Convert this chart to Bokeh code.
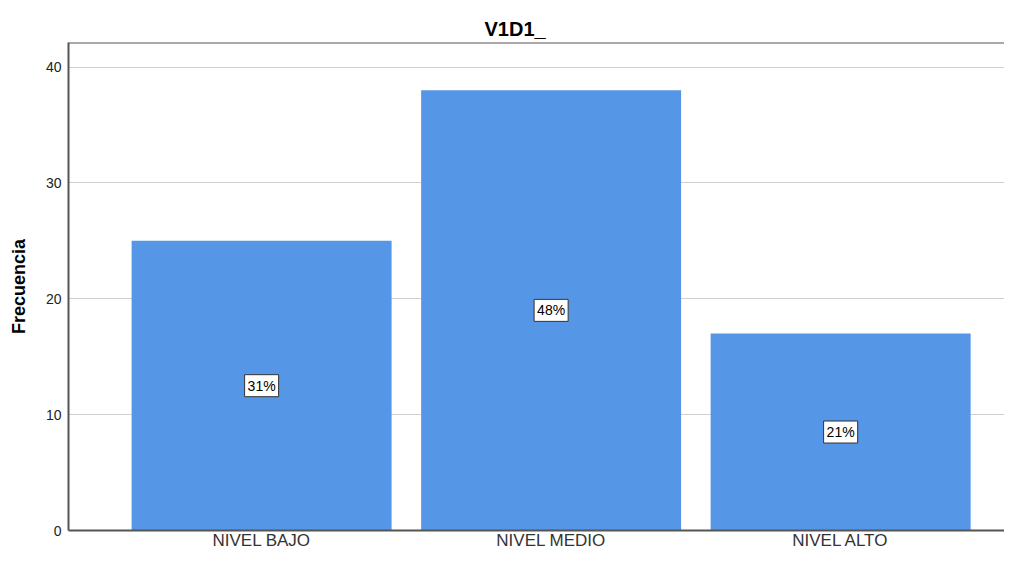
from bokeh.plotting import figure
from bokeh.models import ColumnDataSource, FixedTicker, Span
from bokeh.core.properties import value
from bokeh.embed import file_html
from bokeh.resources import INLINE

categories = ["NIVEL BAJO", "NIVEL MEDIO", "NIVEL ALTO"]
frequencies = [25, 38, 17]
percent_labels = ["31%", "48%", "21%"]
y_ticks = [0, 10, 20, 30, 40]

xs = list(range(len(categories)))
src = ColumnDataSource(dict(
    x=xs,
    top=frequencies,
    mid=[f / 2 for f in frequencies],
    lab=percent_labels,
))

FONT = "Liberation Sans"
YMAX = 42.12

p = figure(width=1004, height=552, output_backend="svg", toolbar_location=None,
           x_range=(-0.667, 2.566), y_range=(0, YMAX),
           min_border_left=68, min_border_top=42, min_border_bottom=20, min_border_right=0,
           title="V1D1_")
p.outline_line_color = None
p.background_fill_color = "white"
p.border_fill_color = "white"

p.title.align = "left"
p.title.offset = 416
p.title.text_font = FONT
p.title.text_font_size = "20px"
p.title.text_font_style = "bold"
p.title.text_color = "#000000"
p.title.standoff = 6

p.vbar(x="x", top="top", width=0.898, source=src, fill_color="#5596E6",
       line_color=None)

p.text(x="x", y="mid", text="lab", source=src,
       text_align="center", text_baseline="middle",
       text_font=value(FONT), text_font_size="14px", text_color="#000000",
       background_fill_color="white", border_line_color="#333333",
       border_line_width=1, padding=3)

top_line = Span(location=YMAX, dimension="width", line_color="#555555", line_width=2)
p.add_layout(top_line)

# axes
p.xaxis.ticker = FixedTicker(ticks=xs)
p.xaxis.major_label_overrides = {i: c for i, c in zip(xs, categories)}
p.xaxis.major_tick_line_color = None
p.xaxis.major_tick_out = 0
p.xaxis.minor_tick_line_color = None
p.xaxis.axis_line_color = "#555555"
p.xaxis.axis_line_width = 2
p.xaxis.major_label_text_font = FONT
p.xaxis.major_label_text_font_size = "17px"
p.xaxis.major_label_text_color = "#333333"
p.xaxis.major_label_standoff = 0

p.yaxis.ticker = FixedTicker(ticks=y_ticks)
p.yaxis.major_tick_line_color = None
p.yaxis.major_tick_out = 0
p.yaxis.minor_tick_line_color = None
p.yaxis.axis_line_color = "#555555"
p.yaxis.axis_line_width = 2
p.yaxis.major_label_text_font = FONT
p.yaxis.major_label_text_font_size = "14px"
p.yaxis.major_label_text_color = "#222222"
p.yaxis.major_label_standoff = 7
p.yaxis.axis_label = "Frecuencia"
p.yaxis.axis_label_text_font = FONT
p.yaxis.axis_label_text_font_size = "18px"
p.yaxis.axis_label_text_font_style = "bold"
p.yaxis.axis_label_text_color = "#000000"
p.yaxis.axis_label_standoff = 14

p.xgrid.grid_line_color = None
p.ygrid.ticker = FixedTicker(ticks=y_ticks[1:])
p.ygrid.grid_line_color = "#d0d0d0"
p.ygrid.grid_line_width = 1

open("out.html", "w").write(file_html(p, INLINE))
